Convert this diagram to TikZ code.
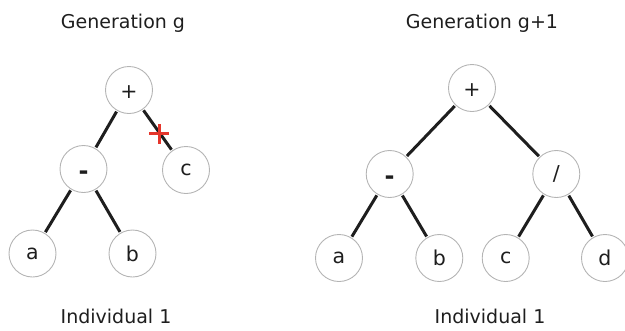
\documentclass[tikz,border=0pt]{standalone}
\usepackage{fontspec}
\setmainfont{DejaVu Sans}
\definecolor{ink}{HTML}{1E1E1E}
\definecolor{ring}{HTML}{B4B4B4}
\definecolor{cutred}{HTML}{E5352B}
\tikzset{
  tnode/.style={circle, draw=ring, line width=0.9pt, minimum size=47pt, inner sep=0pt,
    text=ink, font=\fontsize{20.5}{20.5}\selectfont},
  plusnode/.style={tnode, text height=17pt, text depth=0pt},
  minusnode/.style={tnode, font=\fontsize{24}{24}\selectfont\bfseries, text height=21pt, text depth=0pt},
  edge/.style={draw=ink, line width=3pt, shorten <=1pt, shorten >=1pt},
  caption/.style={text=ink, font=\fontsize{19}{19}\selectfont, inner sep=0pt, anchor=base},
  cutmark/.style={draw=cutred, line width=3.6pt}
}
\begin{document}
\begin{tikzpicture}[x=1pt,y=-1pt]
\useasboundingbox (0,0) rectangle (625,330);
\clip (0,0) rectangle (625,330);
% captions
\node[caption] (t1) at (123,28) {Generation g};
\node[caption] (t2) at (482,28) {Generation g+1};
\node[caption] (b1) at (116,323) {Individual 1};
\node[caption] (b2) at (490,323) {Individual 1};
% left tree
\node[plusnode] (lp) at (129,90) {+};
\node[minusnode] (lm) at (83.5,169) {-};
\node[tnode] (lc) at (186,170) {c};
\node[tnode] (la) at (32.5,253.5) {a};
\node[tnode] (lb) at (132.5,253.5) {b};
\draw[edge] (lp) -- (lm);
\draw[edge] (lp) -- (lc);
\draw[edge] (lm) -- (la);
\draw[edge] (lm) -- (lb);
% cut mark
\coordinate (cut) at (159.3,133.5);
\draw[cutmark] ([xshift=-10pt]cut) -- ([xshift=10pt]cut);
\draw[cutmark] ([yshift=-10pt]cut) -- ([yshift=10pt]cut);
% right tree
\node[plusnode] (rp) at (472,88) {+};
\node[minusnode] (rm) at (389.7,174) {-};
\node[tnode] (rd) at (556.3,174) {/};
\node[tnode] (ra) at (339,258) {a};
\node[tnode] (rb) at (439.3,258) {b};
\node[tnode] (rc) at (505.7,258) {c};
\node[tnode] (rdd) at (605,258) {d};
\draw[edge] (rp) -- (rm);
\draw[edge] (rp) -- (rd);
\draw[edge] (rm) -- (ra);
\draw[edge] (rm) -- (rb);
\draw[edge] (rd) -- (rc);
\draw[edge] (rd) -- (rdd);
\end{tikzpicture}
\end{document}
